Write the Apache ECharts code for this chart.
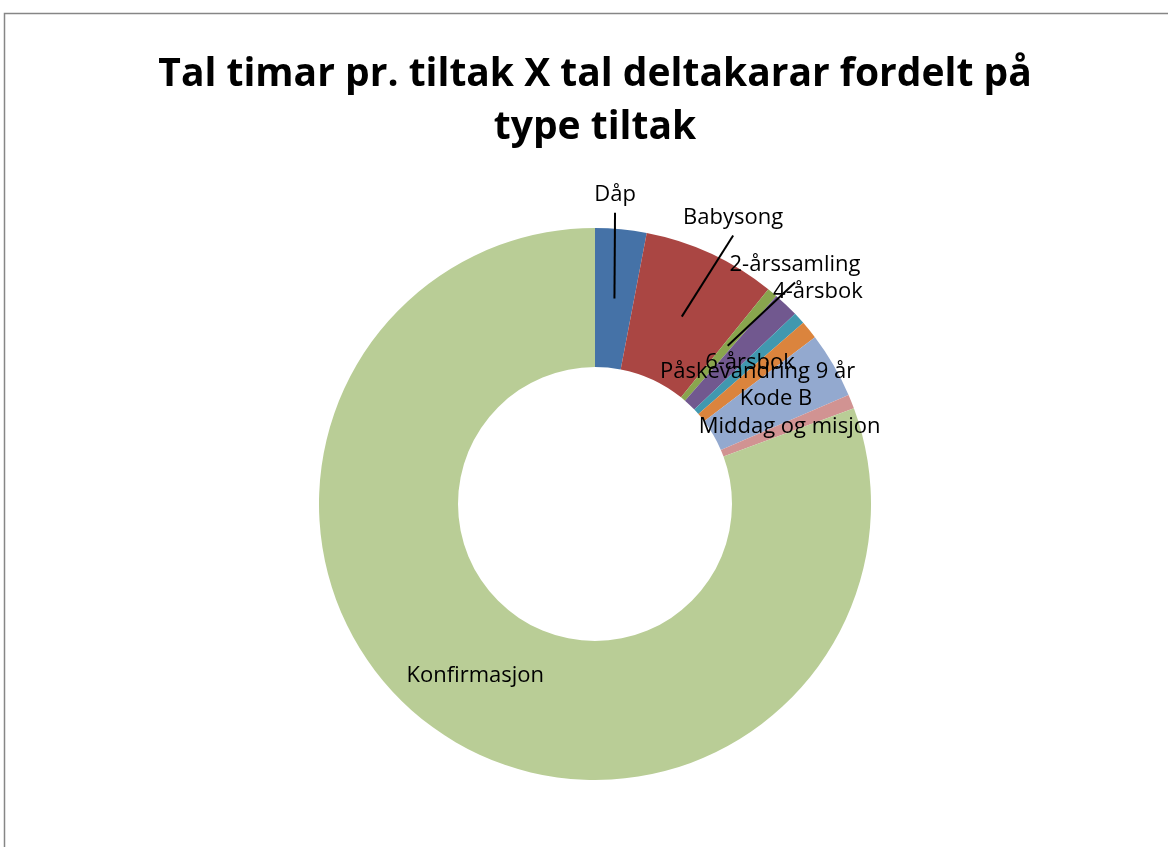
<!DOCTYPE html>
<html>
<head>
<meta charset="utf-8">
<script src="https://cdn.jsdelivr.net/npm/echarts@6/dist/echarts.min.js"></script>
<style>
  html, body { margin: 0; padding: 0; background: #fff; }
  #chart { width: 1168px; height: 847px; }
</style>
</head>
<body>
<div id="chart"></div>
<script>
// share of hours (percent)
const categories = ['Dåp', 'Babysong', '2-årssamling', '4-årsbok', '6-årsbok', 'Påskevandring 9 år', 'Kode B', 'Middag og misjon', 'Konfirmasjon'];
const values = [3.0, 7.8, 0.6, 1.5, 0.7, 1.07, 3.86, 0.83, 80.6];
const colors = ['#4572A7', '#AA4643', '#89A54E', '#71588F', '#4198AF', '#DB843D', '#93A9CF', '#D19392', '#B9CD96'];

// labels Excel pushed outside the ring: extra distance past the rim, angle shift, leader line
const outside = {
  0: { dist: 34, shift: -1.7, line: true },
  1: { dist: 42, shift: 0.9, line: true },
  2: { dist: 36, shift: -0.1, line: true },
  3: { dist: 32, shift: 2.6, line: false }
};

const cx = 595, cy = 504, r0 = 137, r1 = 276;
const total = values.reduce((a, b) => a + b, 0);

function midAngle(i) {
  let before = 0;
  for (let k = 0; k < i; k++) before += values[k];
  return (before + values[i] / 2) / total * 360;
}
function polar(deg, r) {
  const a = deg * Math.PI / 180;
  return [cx + r * Math.sin(a), cy - r * Math.cos(a)];
}
function labelPos(i) {
  return polar(midAngle(i) + outside[i].shift, r1 + outside[i].dist);
}

// leader lines from under the label to the middle of the ring
const leaders = [];
Object.keys(outside).forEach(k => {
  const i = +k;
  if (!outside[i].line) return;
  const p = labelPos(i);
  const q = polar(midAngle(i), (r0 + r1) / 2);
  leaders.push({
    type: 'line',
    shape: { x1: p[0], y1: p[1] + 18, x2: q[0], y2: q[1] },
    style: { stroke: '#000', lineWidth: 2 },
    z: 10,
    silent: true
  });
});

const chart = echarts.init(document.getElementById('chart'));

const pieData = categories.map((name, i) => ({
  name: name,
  value: values[i],
  itemStyle: { color: colors[i] }
}));

const option = {
  backgroundColor: '#fff',
  animation: false,
  title: {
    text: 'Tal timar pr. tiltak X tal deltakarar fordelt på\ntype tiltak',
    left: cx - 5,
    top: 43,
    textAlign: 'center',
    textStyle: {
      fontFamily: 'Open Sans',
      fontWeight: 'bold',
      fontSize: 39,
      lineHeight: 53,
      color: '#000'
    }
  },
  graphic: [{
    type: 'rect',
    shape: { x: 4.5, y: 13.5, width: 1300, height: 1000 },
    style: { fill: 'none', stroke: '#868686', lineWidth: 1.5 },
    silent: true
  }].concat(leaders),
  series: [{
    type: 'pie',
    center: [cx, cy],
    radius: [r0, r1],
    startAngle: 90,
    clockwise: true,
    avoidLabelOverlap: false,
    label: {
      show: true,
      position: 'inside',
      color: '#000',
      fontFamily: 'Open Sans',
      fontSize: 22,
      formatter: '{b}'
    },
    labelLine: { show: false },
    itemStyle: { borderWidth: 0 },
    emphasis: { disabled: true },
    labelLayout: function (params) {
      const i = params.dataIndex;
      if (!outside[i]) return {};
      const p = labelPos(i);
      return { x: p[0], y: p[1], align: 'center', verticalAlign: 'middle' };
    },
    data: pieData
  }]
};

chart.setOption(option);
</script>
</body>
</html>
